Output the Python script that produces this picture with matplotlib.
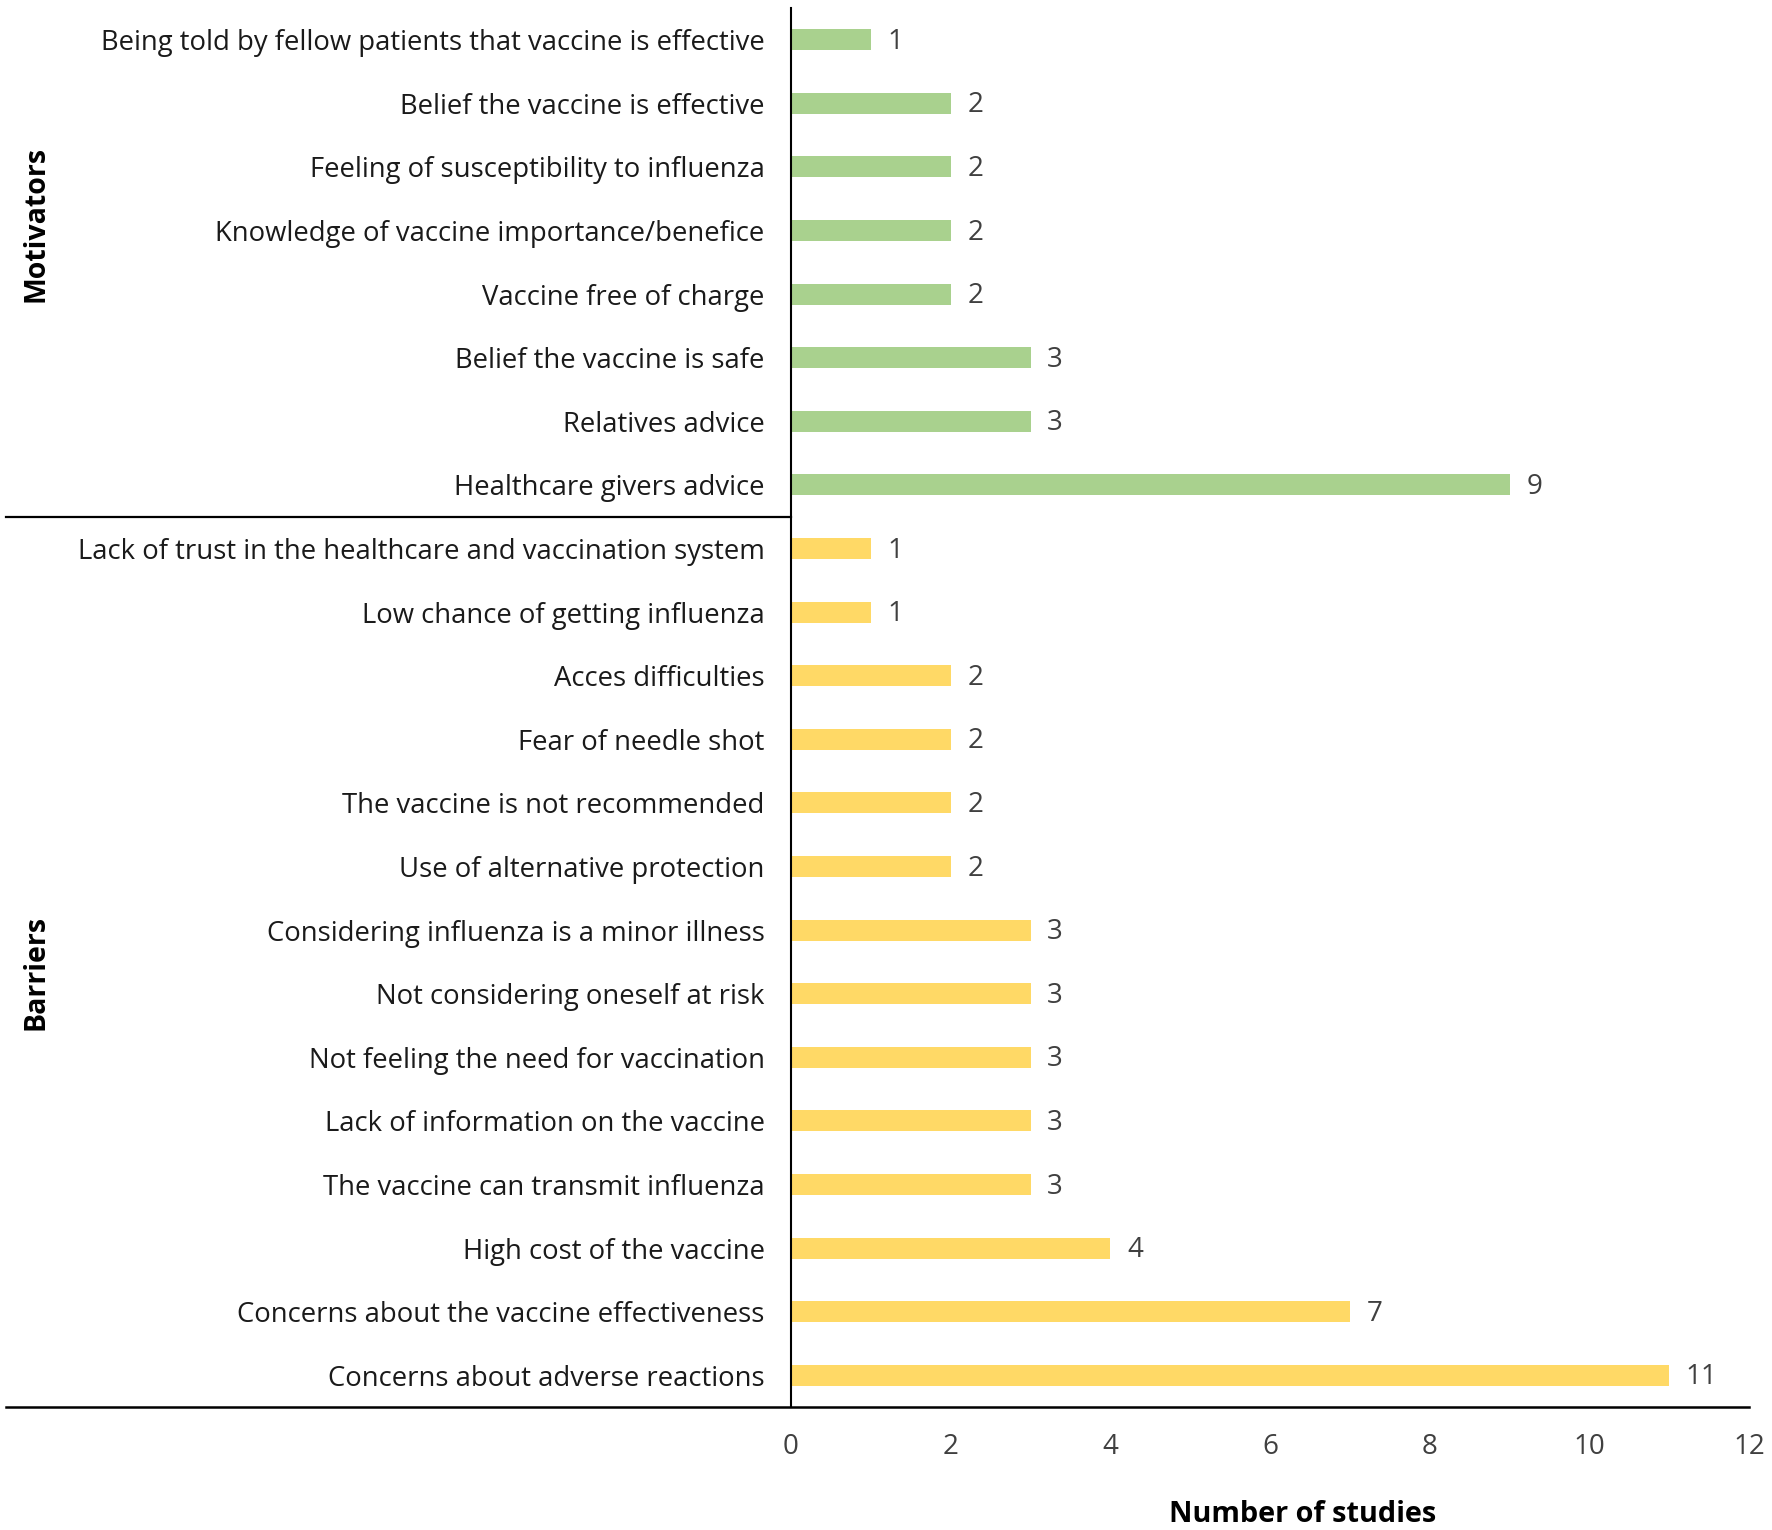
import matplotlib
matplotlib.use("Agg")
import matplotlib.pyplot as plt
import matplotlib.transforms as mtransforms

categories = [
    "Being told by fellow patients that vaccine is effective",
    "Belief the vaccine is effective",
    "Feeling of susceptibility to influenza",
    "Knowledge of vaccine importance/benefice",
    "Vaccine free of charge",
    "Belief the vaccine is safe",
    "Relatives advice",
    "Healthcare givers advice",
    "Lack of trust in the healthcare and vaccination system",
    "Low chance of getting influenza",
    "Acces difficulties",
    "Fear of needle shot",
    "The vaccine is not recommended",
    "Use of alternative protection",
    "Considering influenza is a minor illness",
    "Not considering oneself at risk",
    "Not feeling the need for vaccination",
    "Lack of information on the vaccine",
    "The vaccine can transmit influenza",
    "High cost of the vaccine",
    "Concerns about the vaccine effectiveness",
    "Concerns about adverse reactions",
]
values = [1, 2, 2, 2, 2, 3, 3, 9, 1, 1, 2, 2, 2, 2, 3, 3, 3, 3, 3, 4, 7, 11]
groups = ["Motivators"] * 8 + ["Barriers"] * 14
xticks = [0, 2, 4, 6, 8, 10, 12]

colors = {"Motivators": "#A9D18E", "Barriers": "#FFD966"}

plt.rcParams['font.family'] = ['Open Sans', 'DejaVu Sans']

W, H = 1772, 1530
fig = plt.figure(figsize=(W / 100, H / 100), dpi=100)
left, right, top, bottom = 791, 1749, 8, 1407
ax = fig.add_axes([left / W, 1 - bottom / H, (right - left) / W, (bottom - top) / H])

ypos = list(range(len(categories)))
bar_colors = [colors[g] for g in groups]
ax.barh(ypos, values, height=0.33, color=bar_colors, edgecolor="none")
ax.set_ylim(len(categories) - 0.5, -0.5)
ax.set_xlim(0, 12)

for y, v in zip(ypos, values):
    ax.annotate(str(v), (v, y), xytext=(12, -1.5), textcoords="offset points",
                ha="left", va="center", fontsize=20, color="#404040")

ax.set_yticks(ypos)
ax.set_yticklabels(categories, fontsize=19.8, color="#1a1a1a")
ax.tick_params(axis="y", length=0, pad=19)
ax.set_xticks(xticks)
ax.set_xticklabels([str(t) for t in xticks], fontsize=20, color="#404040")
ax.tick_params(axis="x", length=0, pad=19)

for s in ["top", "right", "bottom"]:
    ax.spines[s].set_visible(False)
ax.spines["left"].set_linewidth(1.5)
ax.spines["left"].set_color("black")

x0 = (6 - left) / (right - left)
trans = mtransforms.blended_transform_factory(ax.transAxes, ax.transData)
ax.plot([x0, 0], [7.5, 7.5], transform=trans, color="black", lw=1.6, clip_on=False)
ax.plot([x0, 1.0], [0, 0], transform=ax.transAxes, color="black", lw=1.8, clip_on=False)

fig.text(36 / W, 1 - 224 / H, "Motivators", rotation=90, ha="center", va="center",
         fontsize=20.5, fontweight="bold", color="black")
fig.text(36 / W, 1 - 972 / H, "Barriers", rotation=90, ha="center", va="center",
         fontsize=20.5, fontweight="bold", color="black")
fig.text(1303 / W, 1 - 1514 / H, "Number of studies", ha="center", va="center",
         fontsize=20.8, fontweight="bold", color="black")

fig.savefig("out.png", dpi=100, facecolor="white")
